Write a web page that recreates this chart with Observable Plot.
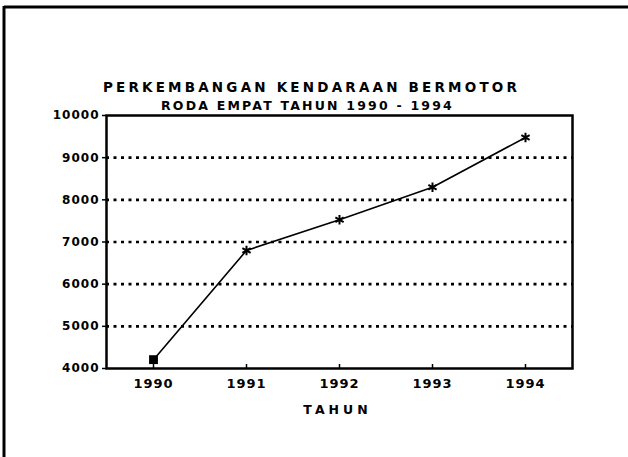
<!DOCTYPE html>
<html>
<head>
<meta charset="utf-8">
<script src="https://cdn.jsdelivr.net/npm/d3@7"></script>
<script src="https://cdn.jsdelivr.net/npm/@observablehq/plot@0.6"></script>
<style>
  html, body { margin: 0; padding: 0; background: #fff; }
  #wrap { position: relative; width: 628px; height: 457px; overflow: hidden; }
  svg { display: block; }
</style>
</head>
<body>
<div id="wrap"></div>
<script>
const years = ["1990", "1991", "1992", "1993", "1994"];
const vehicles = [4210, 6800, 7530, 8300, 9480];
const yTicks = [4000, 5000, 6000, 7000, 8000, 9000, 10000];
const titleLines = ["PERKEMBANGAN KENDARAAN BERMOTOR", "RODA EMPAT TAHUN 1990 - 1994"];
const xLabel = "TAHUN";

const data = years.map((y, i) => ({year: y, value: vehicles[i], first: i === 0}));

const font = "'DejaVu Sans', sans-serif";

const chart = Plot.plot({
  width: 628,
  height: 457,
  marginLeft: 106,
  marginRight: 56,
  marginTop: 115,
  marginBottom: 89,
  style: {fontFamily: font, background: "#fff", color: "#000"},
  x: {type: "point", domain: years, padding: 0.5, label: null},
  y: {domain: [4000, 10000], ticks: yTicks, label: null},
  marks: [
    Plot.ruleY(yTicks.filter(t => t > 4000 && t < 10000), {stroke: "#000", strokeWidth: 2.6, strokeDasharray: "3,4.5"}),
    Plot.frame({stroke: "#000", strokeWidth: 2.5}),
    Plot.axisY({ticks: yTicks, tickSize: 4, tickPadding: 3, tickFormat: d => String(d), fontSize: 12, fontWeight: "bold", fill: "#000", strokeWidth: 1.5}),
    Plot.axisX({tickSize: -4, tickPadding: 14, fontSize: 13, fontWeight: "bold", fill: "#000", strokeWidth: 1.5}),
    Plot.line(data, {x: "year", y: "value", stroke: "#000", strokeWidth: 1.6}),
    Plot.dot(data.filter(d => d.first), {x: "year", y: "value", symbol: "square", fill: "#000", r: 5}),
    Plot.dot(data.filter(d => !d.first), {x: "year", y: "value", symbol: "asterisk", stroke: "#000", strokeWidth: 2, r: 4.5}),
    Plot.text([xLabel], {frameAnchor: "bottom", dy: 45, dx: -2, text: d => d, fontSize: 12.5, fontWeight: "bold", fill: "#000"}),
    Plot.text([titleLines[0]], {frameAnchor: "top", dy: -33, dx: -28, text: d => d, fontSize: 13.5, fontWeight: "bold", fill: "#000"}),
    Plot.text([titleLines[1]], {frameAnchor: "top", dy: -14, dx: -32, text: d => d, fontSize: 12.5, fontWeight: "bold", fill: "#000"})
  ]
});

const svg = d3.select(chart);
const spacing = {[xLabel]: "4px", [titleLines[0]]: "3.2px", [titleLines[1]]: "2.2px"};
svg.selectAll("text").each(function() {
  const s = spacing[this.textContent];
  if (s) d3.select(this).style("letter-spacing", s);
});
svg.selectAll("[aria-label='x-axis tick label'] text, [aria-label='y-axis tick label'] text")
  .style("letter-spacing", "1px");

// outer page border (scan edge)
svg.append("line").attr("x1", 4).attr("x2", 4).attr("y1", 6).attr("y2", 457).attr("stroke", "#000").attr("stroke-width", 3);
svg.append("line").attr("x1", 4).attr("x2", 628).attr("y1", 7).attr("y2", 7).attr("stroke", "#000").attr("stroke-width", 3);

document.getElementById("wrap").appendChild(chart);
</script>
</body>
</html>
